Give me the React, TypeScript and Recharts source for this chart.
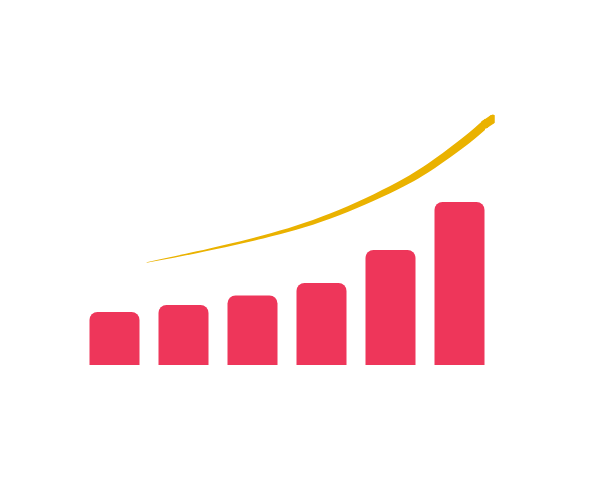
import React from 'react';
import { ComposedChart, Bar, Area, Line, XAxis, YAxis } from 'recharts';

// Bar categories (positions 0..5 on a numeric axis) and their values
const categories = ['1', '2', '3', '4', '5', '6'];
const barValues = [53, 60, 69.5, 82, 115, 163];

// Growth curve: x positions along the bar axis, lower and upper edge of the tapered stroke
const curveX = [0.459, 1.184, 2.149, 3.116, 4.083, 4.638, 5.043, 5.362];
const curveLow = [102.24, 111.83, 126.45, 146.13, 175.03, 197.09, 216.89, 235.1];
const curveHigh = [102.76, 113.67, 129.75, 151.47, 182.57, 206.51, 227.51, 246.3];

// Last stretch of the curve with its rounded tip
const tipX = [5.362, 5.474];
const tipY = [240.7, 246.0];

const BAR_COLOR = '#EE365A';
const CURVE_COLOR = '#EAB200';

const barRows = barValues.map((v, i) => ({ x: i, name: categories[i], bar: v }));
const curveRows = curveX.map((x, i) => ({ x, curve: [curveLow[i], curveHigh[i]] }));
const tipRows = tipX.map((x, i) => ({ x, y: tipY[i] }));

const TipDot = (p: any) => (
  <circle key={`tip-${p.index}`} cx={p.cx} cy={p.cy} r={4.3} fill={CURVE_COLOR} stroke="none" />
);

export default function App() {
  return (
    <div style={{ position: 'absolute', left: 0, top: 0, width: 589, height: 481, background: '#fff' }}>
      <ComposedChart
        width={589}
        height={481}
        data={barRows}
        margin={{ top: 65, right: 94.5, bottom: 116, left: 80.5 }}
      >
        <XAxis dataKey="x" type="number" domain={[-0.5, 5.5]} hide allowDataOverflow />
        <XAxis xAxisId="c" dataKey="x" type="number" domain={[-0.5, 5.5]} hide allowDataOverflow />
        <YAxis type="number" domain={[0, 300]} hide allowDataOverflow />
        <Bar
          dataKey="bar"
          fill={BAR_COLOR}
          barSize={50}
          radius={[8, 8, 0, 0]}
          isAnimationActive={false}
        />
        <Area
          xAxisId="c"
          data={curveRows}
          dataKey="curve"
          type="natural"
          fill={CURVE_COLOR}
          fillOpacity={1}
          stroke="none"
          dot={false}
          activeDot={false}
          isAnimationActive={false}
        />
        <Line
          xAxisId="c"
          data={tipRows}
          dataKey="y"
          type="linear"
          stroke={CURVE_COLOR}
          strokeWidth={8.6}
          strokeLinecap="round"
          dot={TipDot}
          activeDot={false}
          isAnimationActive={false}
        />
      </ComposedChart>
    </div>
  );
}
